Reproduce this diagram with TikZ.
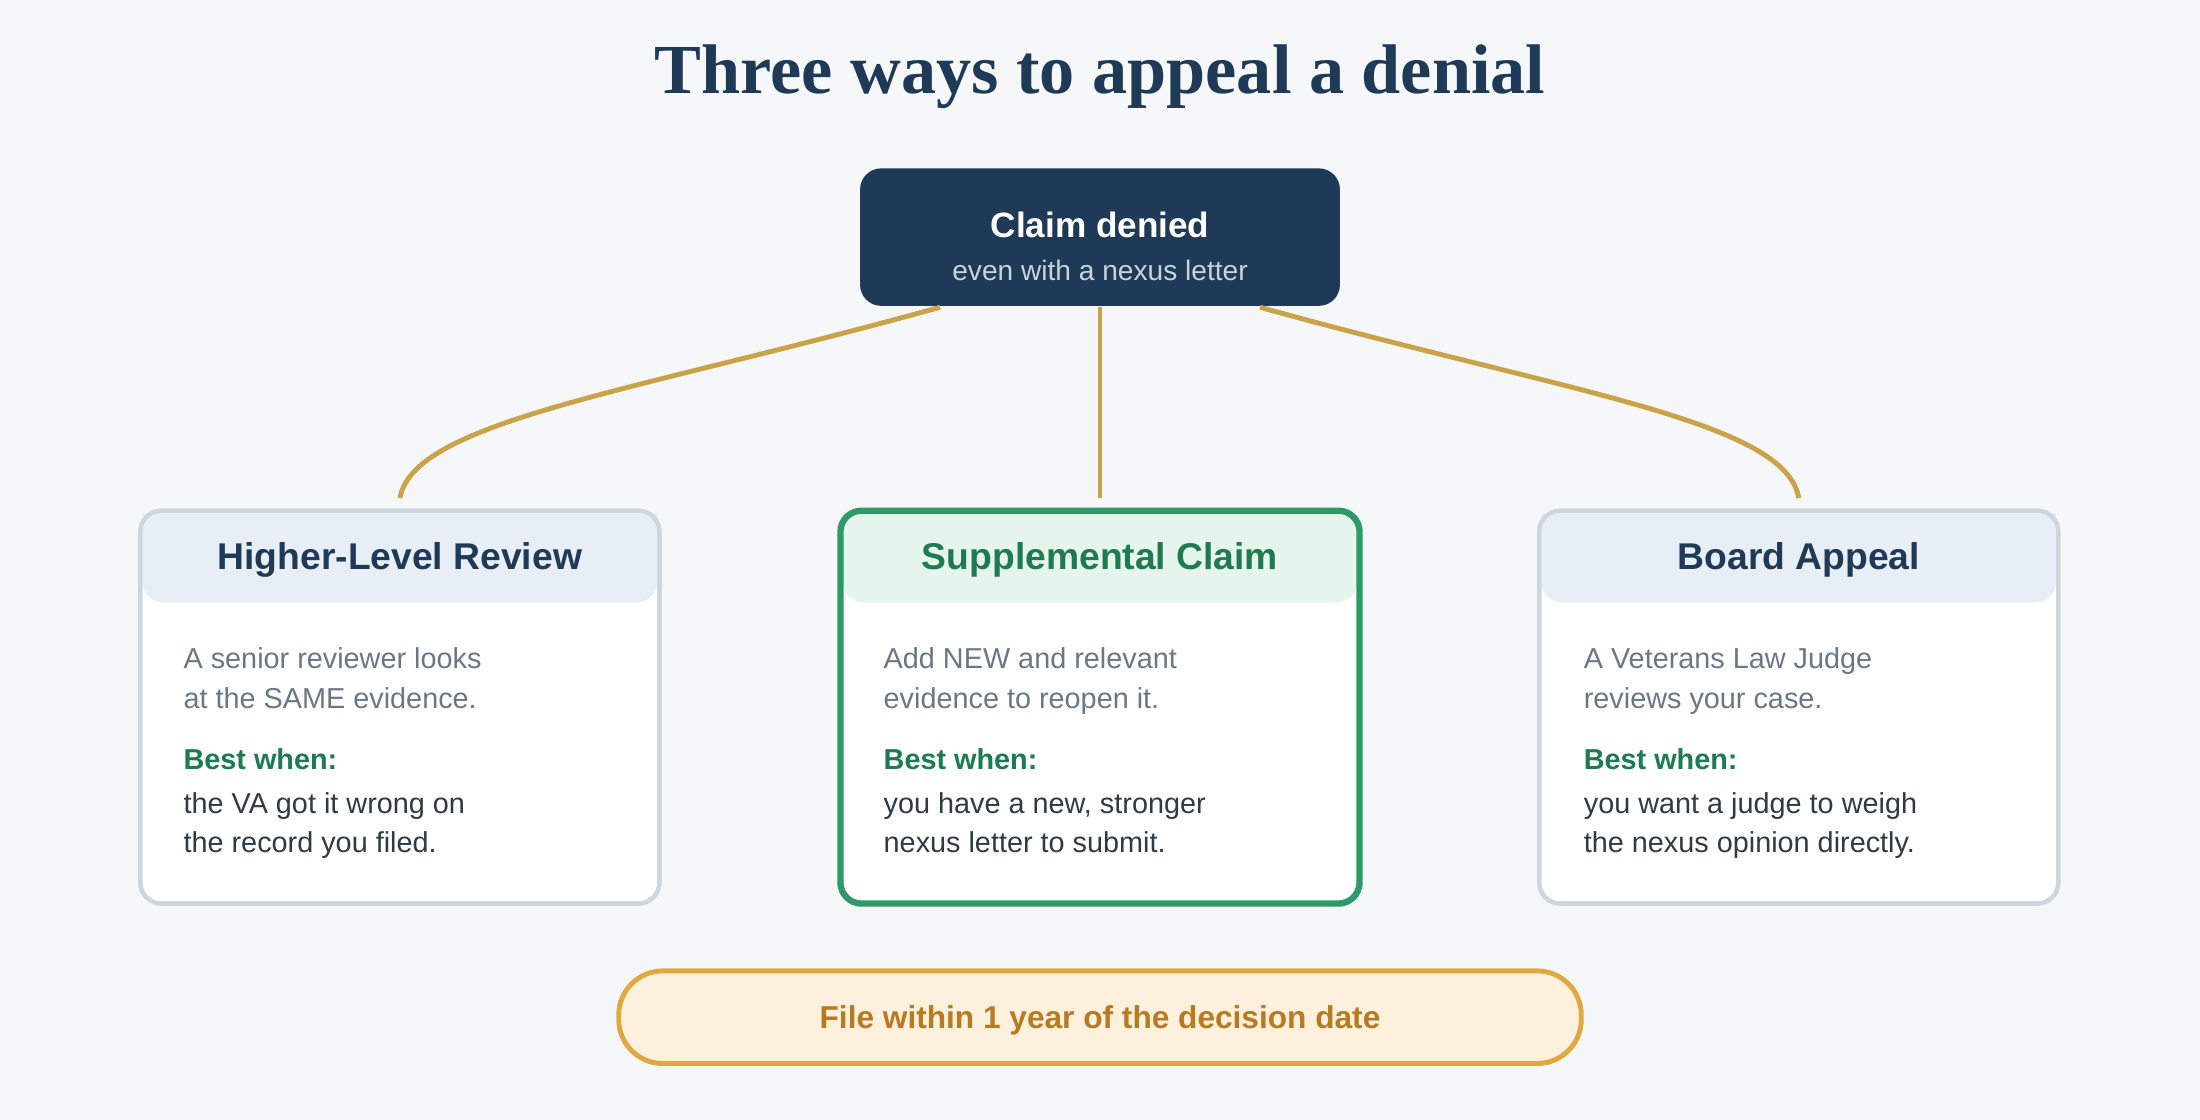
\documentclass[tikz,border=0pt]{standalone}
\usepackage{fontspec}
\setmainfont{Liberation Sans}
\newfontfamily\titlefont{Liberation Serif}
\usetikzlibrary{positioning}
\definecolor{navy}{HTML}{1F3A56}
\definecolor{gold}{HTML}{C9A24A}
\definecolor{bordergray}{HTML}{CDD6DE}
\definecolor{headblue}{HTML}{E8EEF5}
\definecolor{headgreen}{HTML}{E6F5EC}
\definecolor{leafgreen}{HTML}{2E9A6A}
\definecolor{textgreen}{HTML}{1E7A50}
\definecolor{softgray}{HTML}{6B7785}
\definecolor{darktext}{HTML}{2F3A45}
\definecolor{pillfill}{HTML}{FDF0DC}
\definecolor{pilldraw}{HTML}{E0A840}
\definecolor{pilltext}{HTML}{B87A20}
\definecolor{bgcol}{HTML}{F5F7F9}
\begin{document}
\begin{tikzpicture}[
    x=0.1403mm, y=-0.1403mm,
    card/.style={draw=bordergray, line width=1.2pt, fill=white, rounded corners=6pt},
    head/.style={font=\bfseries\fontsize{10.6}{13}\selectfont, text=navy},
    body/.style={anchor=north west, align=left, font=\fontsize{8.2}{11.2}\selectfont, text=softgray},
    best/.style={anchor=north west, font=\bfseries\fontsize{8.2}{11}\selectfont, text=textgreen},
    when/.style={anchor=north west, align=left, font=\fontsize{8.2}{11.2}\selectfont, text=darktext},
    link/.style={draw=gold, line width=1.4pt}
]
\fill[bgcol] (0,0) rectangle (1568,798);

% Title
\node[font=\titlefont\bfseries\fontsize{20}{24}\selectfont, text=navy] (title) at (784,55) {Three ways to appeal a denial};

% Root
\fill[navy, rounded corners=6pt] (613,120) rectangle (955,218);
\node[text=white, font=\bfseries\fontsize{10}{12}\selectfont] (root) at (784,160) {Claim denied};
\node[text=headblue!85!navy, font=\fontsize{8}{10}\selectfont] (rootsub) at (784,193) {even with a nexus letter};
\coordinate (rl) at (670,219);
\coordinate (rm) at (784,219);
\coordinate (rr) at (898,219);

% Cards
\foreach \x/\name/\hf/\bc in {100/hlr/headblue/bordergray, 599/sup/headgreen/leafgreen, 1097/ba/headblue/bordergray} {
    \path[card, draw=\bc] (\x,364) rectangle ++(370,280);
    \fill[\hf, rounded corners=6pt] (\x+1.5,365.5) rectangle ++(367,64);
    \fill[\hf] (\x+1.5,365.5) rectangle ++(367,40);
    \draw[\bc, line width=1.2pt, rounded corners=6pt] (\x,364) rectangle ++(370,280);
    \coordinate (\name) at (\x+185,355);
}
\draw[leafgreen, line width=1.8pt, rounded corners=6pt] (599,364) rectangle ++(370,280);

\node[head] (hlrhead) at (285,399) {Higher-Level Review};
\node[head, text=textgreen] (suphead) at (784,399) {Supplemental Claim};
\node[head] (bahead) at (1282,399) {Board Appeal};

\node[body] (hlrtxt) at (122,453) {A senior reviewer looks\\at the SAME evidence.};
\node[best] (hlrbest) at (122,525) {Best when:};
\node[when] (hlrwhen) at (122,556) {the VA got it wrong on\\the record you filed.};

\node[body] (suptxt) at (621,453) {Add NEW and relevant\\evidence to reopen it.};
\node[best] (supbest) at (621,525) {Best when:};
\node[when] (supwhen) at (621,556) {you have a new, stronger\\nexus letter to submit.};

\node[body] (batxt) at (1120,453) {A Veterans Law Judge\\reviews your case.};
\node[best] (babest) at (1120,525) {Best when:};
\node[when] (bawhen) at (1120,556) {you want a judge to weigh\\the nexus opinion directly.};

% Connectors
\draw[link] (rl) .. controls (450,280) and (295,300) .. (hlr);
\draw[link] (rm) -- (sup);
\draw[link] (rr) .. controls (1118,280) and (1273,300) .. (ba);

% Deadline
\draw[pilldraw, fill=pillfill, line width=1.4pt, rounded corners=12.5pt] (441,692) rectangle (1127,758);
\node[text=pilltext, font=\bfseries\fontsize{9}{11}\selectfont] (deadline) at (784,727) {File within 1 year of the decision date};
\end{tikzpicture}
\end{document}
